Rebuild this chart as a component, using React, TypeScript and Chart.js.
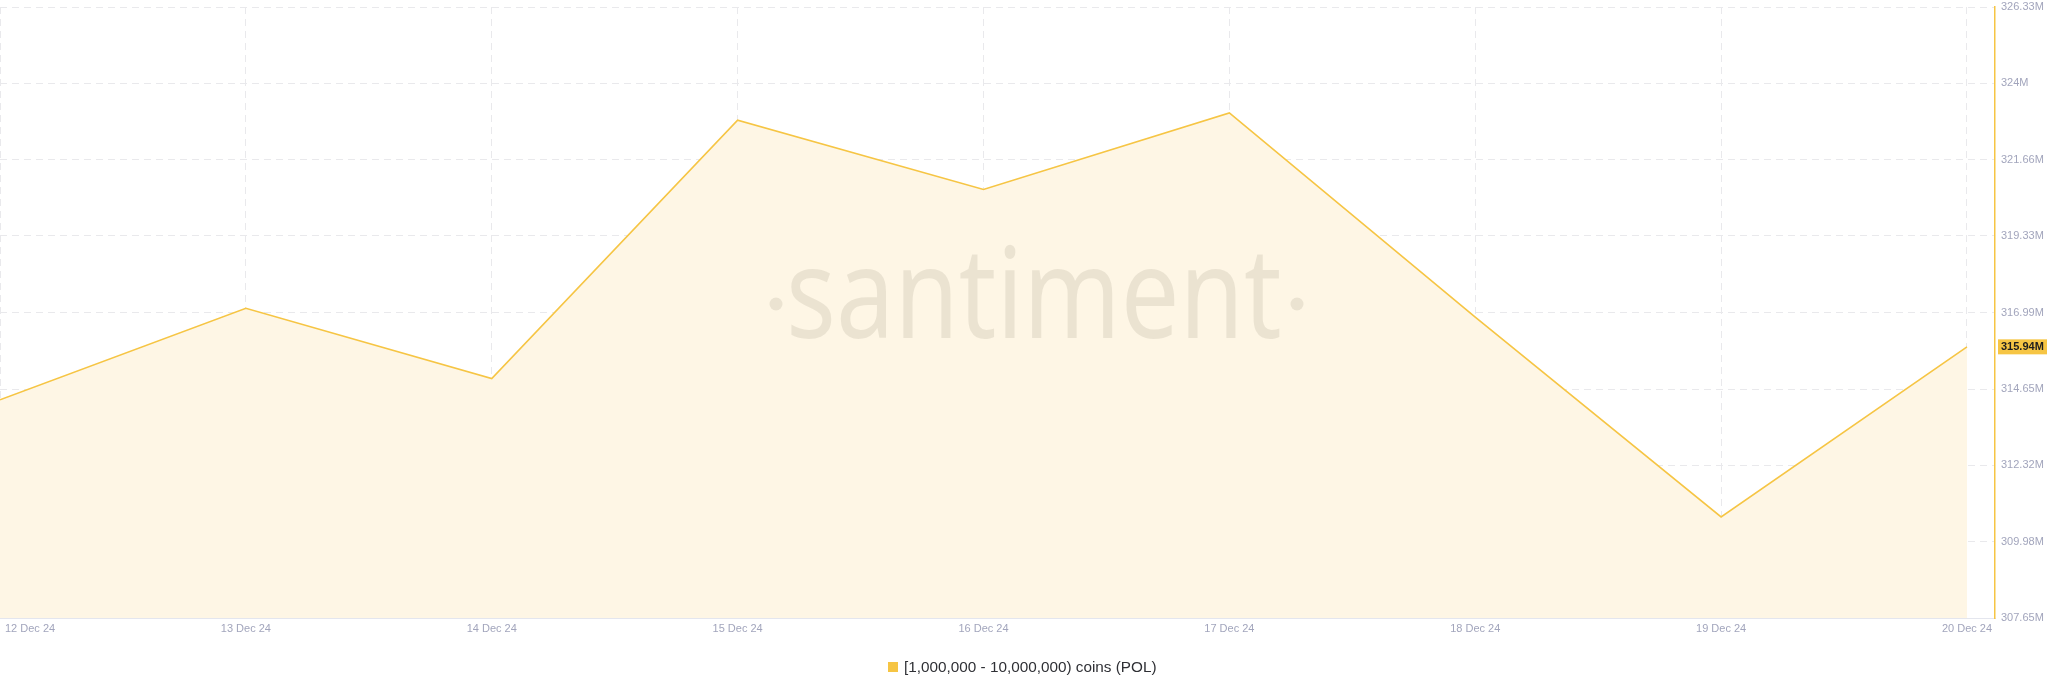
import React, { useEffect, useRef } from 'react';
import { Chart, registerables } from 'chart.js';

Chart.register(...registerables);

// ---- data ----
const dates = ['12 Dec 24', '13 Dec 24', '14 Dec 24', '15 Dec 24', '16 Dec 24', '17 Dec 24', '18 Dec 24', '19 Dec 24', '20 Dec 24'];
// holdings in millions of POL
const holdings = [314.32, 317.12, 314.97, 322.87, 320.75, 323.09, 316.85, 310.74, 315.94];
const yTickValues = [307.65, 309.98, 312.32, 314.65, 316.99, 319.33, 321.66, 324.0, 326.33];
const yTickLabels = ['307.65M', '309.98M', '312.32M', '314.65M', '316.99M', '319.33M', '321.66M', '324M', '326.33M'];
const seriesLabel = '[1,000,000 - 10,000,000) coins (POL)';
const lastValue = 315.94;
const lastValueLabel = '315.94M';
const watermarkText = 'santiment';

// ---- styles ----
const LINE = '#f6c544';
const FILL = '#fef6e5';
const GRID = '#e9e9ec';
const AXIS_TEXT = '#a2a5bc';
const FONT = '"Liberation Sans", Arial, sans-serif';

export default function App() {
  const ref = useRef<HTMLCanvasElement>(null);

  useEffect(() => {
    const canvas = ref.current;
    if (!canvas) return;

    const extras = {
      id: 'santimentExtras',
      afterDatasetsDraw(chart: any) {
        const ctx = chart.ctx as CanvasRenderingContext2D;
        // watermark
        ctx.save();
        ctx.fillStyle = 'rgba(40,30,0,0.085)';
        ctx.font = `127px "Noto Sans", sans-serif`;
        ctx.textBaseline = 'alphabetic';
        ctx.textAlign = 'left';
        const m = ctx.measureText(watermarkText);
        const glyphLeft = -m.actualBoundingBoxLeft;
        const glyphW = m.actualBoundingBoxRight + m.actualBoundingBoxLeft;
        const left = 791;
        const targetW = 489;
        const sx = targetW / glyphW;
        ctx.save();
        ctx.translate(left, 338);
        ctx.scale(sx, 1);
        ctx.fillText(watermarkText, -glyphLeft, 0);
        ctx.restore();
        ctx.beginPath();
        ctx.arc(776, 304, 6.5, 0, Math.PI * 2);
        ctx.fill();
        ctx.beginPath();
        ctx.arc(1297, 304, 6.5, 0, Math.PI * 2);
        ctx.fill();
        ctx.restore();
      },
      afterDraw(chart: any) {
        const ctx = chart.ctx as CanvasRenderingContext2D;
        const xs = chart.scales.x;
        const ys = chart.scales.y;
        ctx.save();
        // x labels
        ctx.font = `11px ${FONT}`;
        ctx.fillStyle = AXIS_TEXT;
        ctx.textBaseline = 'middle';
        dates.forEach((d, i) => {
          const px = xs.getPixelForValue(i);
          if (i === 0) {
            ctx.textAlign = 'left';
            ctx.fillText(d, px + 5, 629);
          } else {
            ctx.textAlign = 'center';
            ctx.fillText(d, px, 629);
          }
        });
        // last value badge
        const vy = ys.getPixelForValue(lastValue);
        ctx.fillStyle = LINE;
        ctx.fillRect(chart.chartArea.right + 3, vy - 7.5, 49, 15);
        ctx.fillStyle = '#1e1e1e';
        ctx.font = `bold 11px ${FONT}`;
        ctx.textAlign = 'left';
        ctx.fillText(lastValueLabel, chart.chartArea.right + 6, vy + 0.5);
        // legend
        ctx.fillStyle = LINE;
        ctx.fillRect(888, 662, 10, 10);
        ctx.fillStyle = '#2f3035';
        ctx.font = `15.3px ${FONT}`;
        ctx.textAlign = 'left';
        ctx.fillText(seriesLabel, 904, 667.5);
        ctx.restore();
      },
    };

    const chart = new Chart(canvas, {
      type: 'line',
      data: {
        datasets: [
          {
            label: seriesLabel,
            data: holdings.map((v, i) => ({ x: i, y: v })),
            borderColor: LINE,
            backgroundColor: FILL,
            fill: 'start',
            borderWidth: 1.6,
            pointRadius: 0,
            tension: 0,
          },
        ],
      },
      options: {
        responsive: false,
        animation: false,
        layout: { padding: { top: 7, left: 0, right: 0, bottom: 0 } },
        plugins: { legend: { display: false }, tooltip: { enabled: false } },
        scales: {
          x: {
            type: 'linear',
            min: 0,
            max: 8.114,
            afterBuildTicks: (s: any) => {
              s.ticks = dates.map((_, i) => ({ value: i }));
            },
            afterFit: (s: any) => {
              s.height = 75;
              s.paddingLeft = 0;
              s.paddingRight = 0;
            },
            ticks: { display: false },
            grid: { color: GRID, drawTicks: false, lineWidth: 1 },
            border: { display: true, color: '#e4e6ee', width: 1, dash: [7, 5] },
          },
          y: {
            position: 'right',
            min: 307.65,
            max: 326.33,
            afterBuildTicks: (s: any) => {
              s.ticks = yTickValues.map((v) => ({ value: v }));
            },
            afterFit: (s: any) => {
              s.width = 53;
              s.paddingTop = 0;
              s.paddingBottom = 0;
            },
            ticks: {
              padding: 6,
              color: AXIS_TEXT,
              font: { size: 11, family: FONT },
              callback: (_v: any, i: number) => yTickLabels[i],
            },
            grid: { color: GRID, drawTicks: false, lineWidth: 1 },
            border: { display: true, color: LINE, width: 1.5, dash: [7, 5] },
          },
        },
      },
      plugins: [extras],
    });

    return () => chart.destroy();
  }, []);

  return (
    <div style={{ position: 'fixed', left: 0, top: 0, width: 2048, height: 693, background: '#fff' }}>
      <canvas ref={ref} width={2048} height={693} style={{ display: 'block', width: 2048, height: 693 }} />
    </div>
  );
}
